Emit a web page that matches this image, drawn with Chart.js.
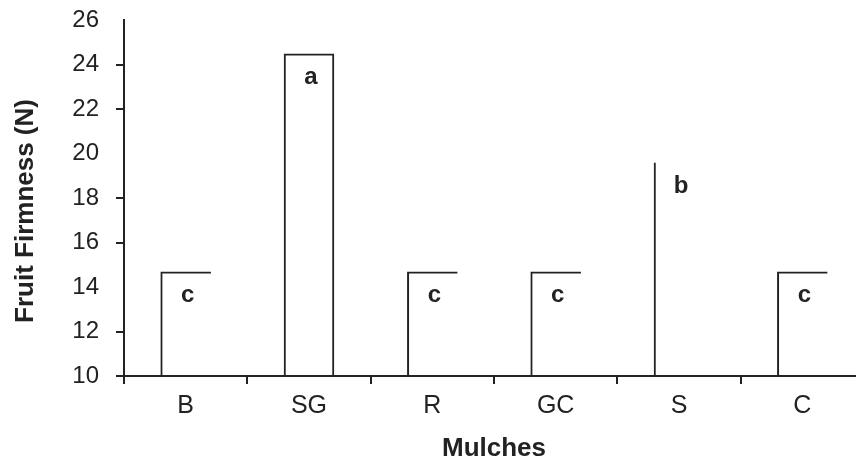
<!DOCTYPE html>
<html>
<head>
<meta charset="utf-8">
<script src="https://cdn.jsdelivr.net/npm/chart.js@4.4.1/dist/chart.umd.min.js"></script>
<style>
  html, body { margin: 0; padding: 0; background: #fff; overflow: hidden; }
  #wrap { width: 868px; height: 464px; }
</style>
</head>
<body>
<div id="wrap"><canvas id="chart" width="868" height="464"></canvas></div>
<script>
// Fruit firmness by mulch treatment
const mulches = ['B', 'SG', 'R', 'GC', 'S', 'C'];
const firmness = [14.7, 24.5, 14.7, 14.7, 19.6, 14.7];
const groups = ['c', 'a', 'c', 'c', 'b', 'c'];
const yTicks = [10, 12, 14, 16, 18, 20, 22, 24, 26];
const yTitle = 'Fruit Firmness (N)';

const ink = '#222';
const font = '"Liberation Sans", Arial, sans-serif';
const edgeL_T = { left: 2, top: 2, right: 0, bottom: 0 };
const edgeAll = { left: 2, top: 2, right: 2, bottom: 0 };
const edgeL = { left: 2, top: 0, right: 0, bottom: 0 };
const edges = [edgeL_T, edgeAll, edgeL_T, edgeL_T, edgeL, edgeL_T];

// Significance letters placed under the top of each bar
const groupLetters = {
  id: 'groupLetters',
  afterDatasetsDraw(chart) {
    const ctx = chart.ctx;
    const meta = chart.getDatasetMeta(0);
    ctx.save();
    ctx.fillStyle = ink;
    ctx.font = 'bold 24px ' + font;
    ctx.textAlign = 'center';
    ctx.textBaseline = 'middle';
    meta.data.forEach((bar, i) => {
      ctx.fillText(groups[i], bar.x + 2, bar.y + 24);
    });
    ctx.restore();
  }
};

// Rotated y-axis title, sitting slightly below the middle of the axis
const yAxisTitle = {
  id: 'yAxisTitle',
  afterDraw(chart) {
    const ctx = chart.ctx;
    const area = chart.chartArea;
    ctx.save();
    ctx.translate(26, (area.top + area.bottom) / 2 + 13);
    ctx.rotate(-Math.PI / 2);
    ctx.fillStyle = ink;
    ctx.font = 'bold 26px ' + font;
    ctx.textAlign = 'center';
    ctx.textBaseline = 'middle';
    ctx.fillText(yTitle, 0, 0);
    ctx.restore();
  }
};

new Chart(document.getElementById('chart'), {
  type: 'bar',
  data: {
    labels: mulches,
    datasets: [{
      data: firmness,
      backgroundColor: 'rgba(0,0,0,0)',
      borderColor: ink,
      borderWidth: edges,
      borderSkipped: false,
      categoryPercentage: 1,
      barPercentage: 0.41
    }]
  },
  options: {
    responsive: false,
    animation: false,
    layout: { padding: { top: 20, left: 0, right: 4, bottom: 0 } },
    plugins: { legend: { display: false }, tooltip: { enabled: false } },
    scales: {
      x: {
        offset: true,
        border: { display: true, color: ink, width: 2 },
        grid: { display: true, drawOnChartArea: false, drawTicks: true, tickLength: 8, color: ink, lineWidth: 2, offset: true },
        ticks: { color: ink, padding: 7, font: { family: font, size: 25 } },
        title: {
          display: true, text: 'Mulches', color: ink,
          font: { family: font, size: 26, weight: 'bold' },
          padding: { top: 6, bottom: 0 }
        },
        afterFit(scale) { scale.height = 88; scale.paddingLeft = 0; scale.paddingRight = 0; }
      },
      y: {
        min: 10, max: 26,
        border: { display: true, color: ink, width: 2 },
        grid: {
          display: true, drawOnChartArea: false, drawTicks: true, tickLength: 8, lineWidth: 2,
          tickColor: (c) => ([26, 20, 14].includes(c.tick && c.tick.value) ? 'rgba(0,0,0,0)' : ink)
        },
        afterBuildTicks(scale) { scale.ticks = yTicks.map(v => ({ value: v })); },
        ticks: { color: ink, padding: 17, font: { family: font, size: 24 } },
        title: { display: false },
        afterFit(scale) { scale.width = 124; scale.paddingTop = 0; scale.paddingBottom = 0; }
      }
    }
  },
  plugins: [groupLetters, yAxisTitle]
});
</script>
</body>
</html>
